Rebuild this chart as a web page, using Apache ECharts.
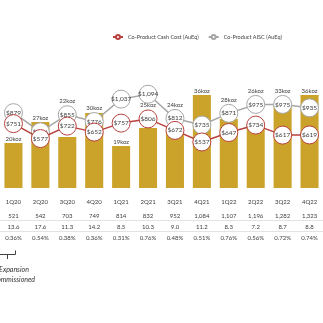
<!DOCTYPE html>
<html><head><meta charset="utf-8">
<script src="https://cdn.jsdelivr.net/npm/echarts@6/dist/echarts.min.js"></script>
<style>html,body{margin:0;padding:0;background:#fff}#c{width:323px;height:323px}</style>
</head><body><div id="c"></div>
<script>
const categories = ['1Q20','2Q20','3Q20','4Q20','1Q21','2Q21','3Q21','4Q21','1Q22','2Q22','3Q22','4Q22'];
const productionKoz = [20,27,22,30,19,25,24,36,28,26,33,36];
const cashCost = [751,577,722,652,757,806,672,537,647,734,617,619];
const aisc = [879,656,855,776,1037,1094,812,735,871,975,975,935];
const row2 = ['521','542','703','749','814','832','952','1,084','1,107','1,196','1,282','1,323'];
const row3 = ['13.6','17.6','11.3','14.2','8.5','10.3','9.0','11.2','8.3','7.2','8.7','8.8'];
const row4 = ['0.36%','0.54%','0.38%','0.36%','0.31%','0.76%','0.48%','0.51%','0.76%','0.56%','0.72%','0.74%'];

const FONT = 'Lato';
const TXT = '#404040';
const chart = echarts.init(document.getElementById('c'), null, {renderer:'canvas'});

function rowAxis(offset, arr, margin){
  return {type:'category', data:categories, gridIndex:0, position:'bottom', offset:offset,
    axisLine:{show:false}, axisTick:{show:false},
    axisLabel:{interval:0, margin:margin, fontSize:6, fontFamily:FONT, color:TXT,
      formatter:(v)=> arr ? arr[categories.indexOf(v)] : v}};
}

const circleLabel = {show:true, position:'inside', fontSize:6.5, fontFamily:FONT, color:TXT,
  formatter:p => '$' + p.value.toLocaleString('en-US')};

const option = {
  animation:false,
  textStyle:{fontFamily:FONT},
  legend:{data:['Co-Product Cash Cost (AuEq)','Co-Product AISC (AuEq)'], left:107, top:29,
    itemWidth:10, itemHeight:5, itemGap:9, textStyle:{fontSize:5.5, fontFamily:FONT, color:TXT}},
  grid:{left:-9, right:-6, top:38, bottom:135, containLabel:false},
  xAxis:[
    {type:'category', data:categories, axisLine:{show:false}, axisTick:{show:false},
     axisLabel:{interval:0, margin:11, fontSize:6, fontFamily:FONT, color:TXT}},
    rowAxis(14, row2, 11),
    rowAxis(25, row3, 11),
    rowAxis(36, row4, 11)
  ],
  yAxis:[
    {type:'value', min:5, max:55, show:false, splitLine:{show:false}},
    {type:'value', min:0, max:1750, show:false, splitLine:{show:false}}
  ],
  series:[
    {name:'Production', type:'bar', data:productionKoz, barWidth:'67%', itemStyle:{color:'#CBA22A'},
     label:{show:true, position:'top', distance:1, fontSize:6, fontFamily:FONT, color:TXT, formatter:p=>p.value+'koz'}, z:1},
    {name:'Co-Product AISC (AuEq)', type:'line', yAxisIndex:1, data:aisc, symbol:'circle', symbolSize:18,
     lineStyle:{color:'#A6A6A6', width:1.5}, itemStyle:{color:'#fff', borderColor:'#A6A6A6', borderWidth:1},
     label:circleLabel, z:3},
    {name:'Co-Product Cash Cost (AuEq)', type:'line', yAxisIndex:1, data:cashCost, symbol:'circle', symbolSize:18,
     lineStyle:{color:'#B8413D', width:1.5}, itemStyle:{color:'#fff', borderColor:'#B8413D', borderWidth:1},
     label:circleLabel, z:4}
  ],
  graphic:[
    {type:'line', shape:{x1:0,y1:220.5,x2:323,y2:220.5}, style:{stroke:'#E3E3E3', lineWidth:1}},
    {type:'line', shape:{x1:0,y1:231.5,x2:323,y2:231.5}, style:{stroke:'#E3E3E3', lineWidth:1}},
    {type:'polyline', shape:{points:[[-2,250.5],[-2,254.5],[15.5,254.5],[15.5,250.5]]}, style:{stroke:'#404040', fill:null, lineWidth:1}},
    {type:'line', shape:{x1:7.5,y1:254.5,x2:7.5,y2:259}, style:{stroke:'#404040', lineWidth:1}},
    {type:'text', x:14, y:265, style:{text:'Expansion\nCommissioned', fill:'#333', font:'italic 7px Lato', textAlign:'center', lineHeight:10}}
  ]
};
chart.setOption(option);

// place production labels so they do not sit on the circles
const r = 8.5, lh = 5.5;
const barItems = productionKoz.map((v, i) => {
  const top = chart.convertToPixel({yAxisIndex:0}, v);
  const cys = [chart.convertToPixel({yAxisIndex:1}, aisc[i]), chart.convertToPixel({yAxisIndex:1}, cashCost[i])];
  let y = top, moved = true, guard = 0;
  while (moved && guard++ < 5) {
    moved = false;
    for (const cy of cys) {
      if (y - lh < cy + r && y > cy - r) { y = cy - r - 1; moved = true; }
    }
  }
  return {value:v, label:{offset:[0, y - top]}};
});
chart.setOption({series:[{name:'Production', data:barItems}]});
</script></body></html>
